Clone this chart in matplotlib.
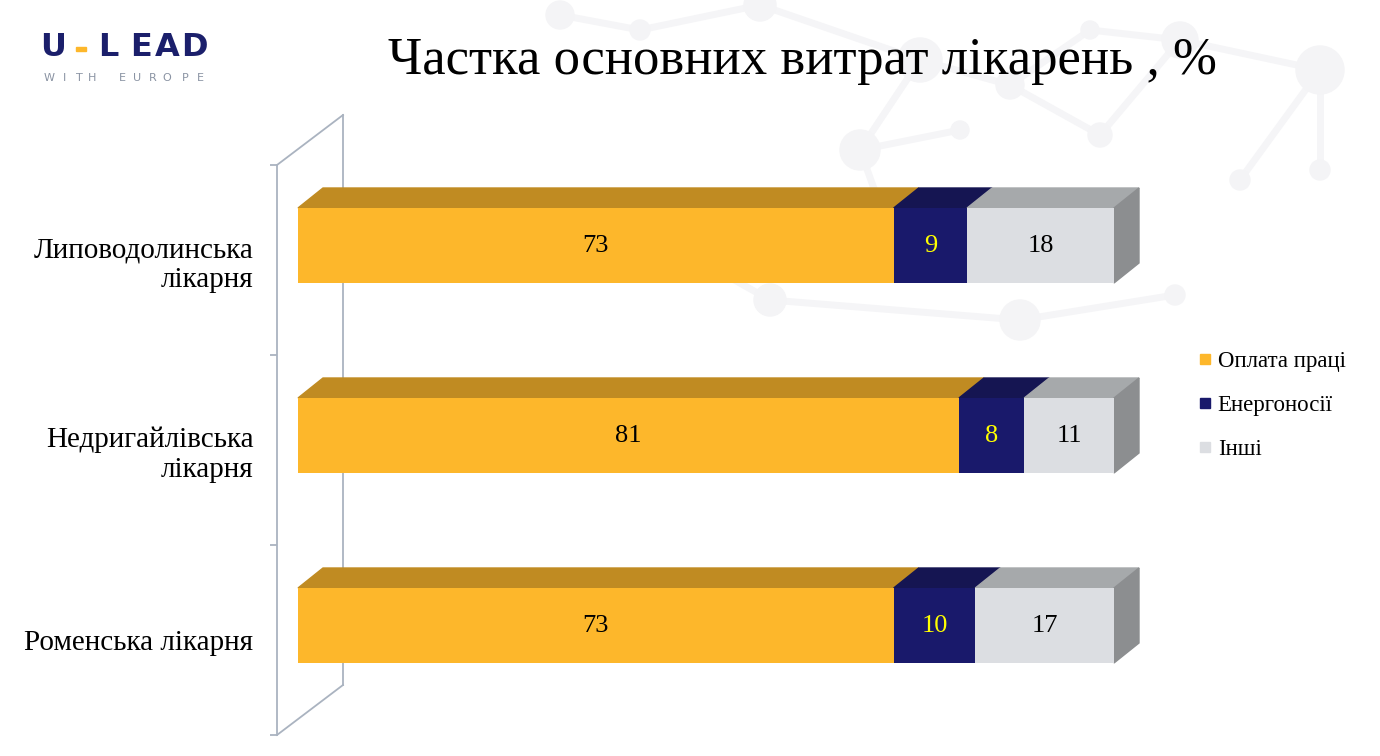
import matplotlib.pyplot as plt
from matplotlib.patches import Polygon, Circle
from matplotlib.lines import Line2D

# дані
likarni = ['Липоводолинська\nлікарня', 'Недригайлівська\nлікарня', 'Роменська лікарня']
oplata = [73, 81, 73]
energo = [9, 8, 10]
inshi = [18, 11, 17]
serii = ['Оплата праці', 'Енергоносії', 'Інші']

front = ['#FDB72B', '#19196B', '#DCDEE2']
top = ['#C08B22', '#151552', '#A6A9AB']
side = '#8C8E90'
txt_col = ['black', '#FFFF00', 'black']

plt.rcParams['font.family'] = ['Liberation Serif', 'DejaVu Serif']

fig = plt.figure(figsize=(13.8, 7.56), dpi=100)

# фон - молекули
bg = fig.add_axes([0, 0, 1, 1], zorder=-5)
bg.set_xlim(0, 1380)
bg.set_ylim(756, 0)
bg.axis('off')
nodes = [(560, 15, 14), (640, 30, 10), (760, 5, 16), (920, 60, 22), (1010, 85, 14),
         (860, 150, 20), (1100, 135, 12), (1180, 40, 18), (1320, 70, 24), (1240, 180, 10),
         (770, 300, 16), (1020, 320, 20), (1175, 295, 10), (690, 255, 9), (960, 130, 9),
         (1320, 170, 10), (1090, 30, 9), (900, 260, 12)]
links = [(0, 1), (1, 2), (2, 3), (3, 4), (3, 5), (4, 6), (6, 7), (7, 8), (8, 9), (5, 14),
         (10, 13), (10, 11), (11, 12), (5, 17), (8, 15), (4, 16), (16, 7)]
for a, b in links:
    bg.plot([nodes[a][0], nodes[b][0]], [nodes[a][1], nodes[b][1]], color='#F5F5F7', lw=5, zorder=0)
for x, y, r in nodes:
    bg.add_patch(Circle((x, y), r, color='#F4F4F6', zorder=1))

# основна область
L, R, T, B = 277, 1160, 165, 735
ax = fig.add_axes([L / 1380, (756 - B) / 756, (R - L) / 1380, (B - T) / 756])
pxx = 816 / 100.0          # пікселів на 1%
xmin = -(298 - L) / pxx
ax.set_xlim(xmin, (R - 298) / pxx)
ax.set_ylim(2.5, -0.5)

dx = 25 / pxx
dy = 20 / 190
hh = 75 / 190
shift = 14.5 / 190

for i in range(len(likarni)):
    yc = i - shift
    vals = [oplata[i], energo[i], inshi[i]]
    left = 0
    for k, v in enumerate(vals):
        ax.barh(yc, v, left=left, height=hh, color=front[k], zorder=3)
        y0 = yc - hh / 2
        ax.add_patch(Polygon([(left, y0), (left + v, y0), (left + v + dx, y0 - dy), (left + dx, y0 - dy)],
                             closed=True, color=top[k], zorder=2, clip_on=False))
        ax.text(left + v / 2, yc, str(v), ha='center', va='center', fontsize=19,
                color=txt_col[k], zorder=5)
        left += v
    y0 = yc - hh / 2
    ax.add_patch(Polygon([(left, y0), (left + dx, y0 - dy), (left + dx, y0 + hh - dy), (left, y0 + hh)],
                         closed=True, color=side, zorder=2, clip_on=False))

# стінка осі
wx = (343 - 298) / pxx
wy = 50 / 190
axis_c = '#AAB3C0'
ax.plot([wx, wx], [-0.5 - wy, 2.5 - wy], color=axis_c, lw=1.3, zorder=1, clip_on=False)
ax.plot([xmin, wx], [-0.5, -0.5 - wy], color=axis_c, lw=1.3, zorder=1, clip_on=False)
ax.plot([xmin, wx], [2.5, 2.5 - wy], color=axis_c, lw=1.3, zorder=1, clip_on=False)

for s in ['top', 'right', 'bottom']:
    ax.spines[s].set_visible(False)
ax.spines['left'].set_color(axis_c)
ax.spines['left'].set_linewidth(1.3)
ax.set_facecolor('none')
ax.set_xticks([])
ax.set_yticks([-0.5, 0.5, 1.5, 2.5])
ax.set_yticklabels([])
ax.tick_params(axis='y', which='major', length=5, color=axis_c, width=1.3)
ax.set_yticks(range(len(likarni)), minor=True)
ax.set_yticklabels(likarni, minor=True, fontsize=21, linespacing=1.2)
ax.tick_params(axis='y', which='minor', length=0, pad=17)

# легенда
handles = [Line2D([], [], marker='s', ls='none', markersize=7, color=c) for c in front]
fig.legend(handles, serii, loc='upper left', bbox_to_anchor=(1173 / 1380, 1 - 330 / 756),
           frameon=False, fontsize=16.5, handletextpad=0.05, labelspacing=1.0, handlelength=1.0)

# заголовок
fig.text(802 / 1380, 1 - 61 / 756, 'Частка основних витрат лікарень , %', ha='center', va='center',
         fontsize=38)

# логотип
logo = [('U', 53), ('L', 108), ('E', 141), ('A', 167), ('D', 194)]
for ch, x in logo:
    fig.text(x / 1380, 1 - 47 / 756, ch, ha='center', va='center', fontsize=23,
             fontweight='bold', color='#1B1F6B', family='DejaVu Sans')
fig.patches.append(plt.Rectangle((76 / 1380, 1 - 51 / 756), 10 / 1380, 4 / 756,
                                 transform=fig.transFigure, color='#FDB72B'))
sub = [('W', 49), ('I', 65), ('T', 79), ('H', 92), ('E', 122), ('U', 137), ('R', 153),
       ('O', 167), ('P', 185), ('E', 200)]
for ch, x in sub:
    fig.text(x / 1380, 1 - 78 / 756, ch, ha='center', va='center',
             fontsize=8, color='#8A93A3', family='DejaVu Sans')

fig.savefig('out.png', dpi=100)
